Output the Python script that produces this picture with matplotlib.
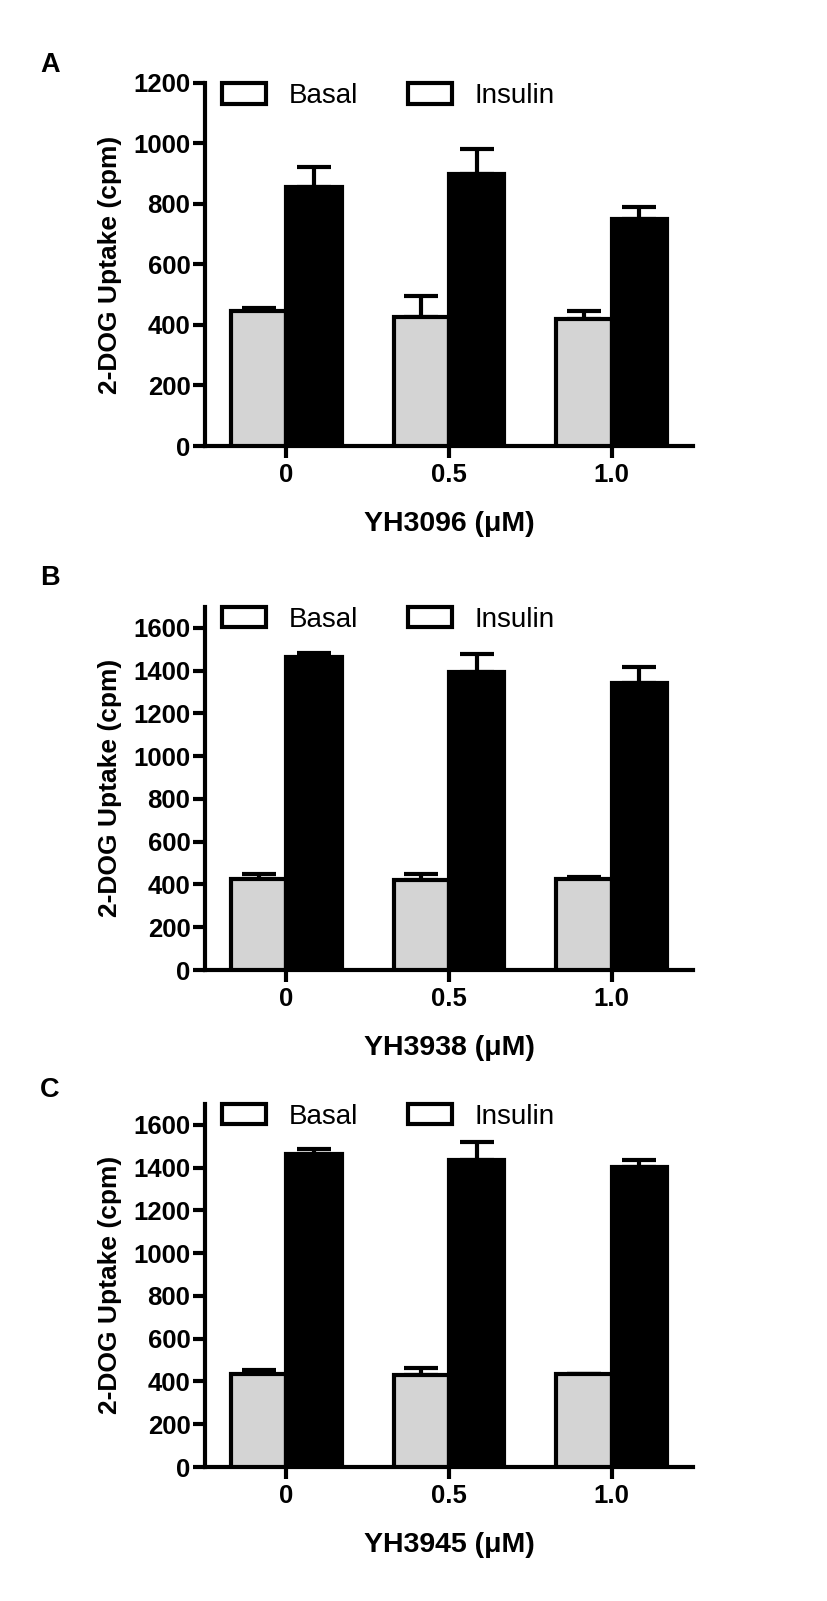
import matplotlib
matplotlib.use("Agg")
import matplotlib.pyplot as plt
from matplotlib.patches import Patch
import numpy as np

plt.rcParams['font.family'] = ['Liberation Sans', 'DejaVu Sans']

doses = ["0", "0.5", "1.0"]
series = ["Basal", "Insulin"]

compounds = ["YH3096", "YH3938", "YH3945"]
panel_letters = ["A", "B", "C"]

basal_A = [445, 428, 421]
basal_A_err = [12, 67, 24]
insulin_A = [856, 898, 749]
insulin_A_err = [67, 83, 41]

basal_B = [428, 420, 428]
basal_B_err = [19, 30, 6]
insulin_B = [1465, 1396, 1344]
insulin_B_err = [20, 81, 75]

basal_C = [433, 431, 433]
basal_C_err = [23, 32, 4]
insulin_C = [1463, 1437, 1404]
insulin_C_err = [23, 84, 33]

ylims = [1200, 1700, 1700]
yticks = [np.arange(0, 1201, 200), np.arange(0, 1601, 200), np.arange(0, 1601, 200)]

panels = [
    (basal_A, basal_A_err, insulin_A, insulin_A_err),
    (basal_B, basal_B_err, insulin_B, insulin_B_err),
    (basal_C, basal_C_err, insulin_C, insulin_C_err),
]

fig = plt.figure(figsize=(8.27, 16.01), dpi=100)
W, H = 827, 1601
# pixel layout (left, bottom_px, top_px)
layout = [(205, 446, 83), (205, 970, 606.6), (205, 1467, 1103.6)]
right_px = 693
letter_y = [65, 578, 1090]

LW = 3.0
bw = 0.34
x = np.arange(len(doses))

for i, (b, be, ins, inse) in enumerate(panels):
    l, bpx, tpx = layout[i]
    ax = fig.add_axes([l / W, 1 - bpx / H, (right_px - l) / W, (bpx - tpx) / H])
    ax.bar(x - bw / 2, b, width=bw, color='#d4d4d4', edgecolor='black', linewidth=LW, zorder=3)
    ax.bar(x + bw / 2, ins, width=bw, color='black', edgecolor='black', linewidth=LW, zorder=3)
    ax.errorbar(x - bw / 2, b, yerr=[np.zeros(len(b)), be], fmt='none', ecolor='black',
                elinewidth=LW, capsize=12, capthick=LW, zorder=2)
    ax.errorbar(x + bw / 2, ins, yerr=[np.zeros(len(ins)), inse], fmt='none', ecolor='black',
                elinewidth=LW, capsize=12, capthick=LW, zorder=2)
    ax.set_xlim(-0.5, 2.5)
    ax.set_ylim(0, ylims[i])
    ax.set_yticks(yticks[i])
    ax.set_xticks(x)
    ax.set_xticklabels(doses)
    for s in ['top', 'right']:
        ax.spines[s].set_visible(False)
    for s in ['left', 'bottom']:
        ax.spines[s].set_linewidth(LW)
    ax.tick_params(axis='both', width=LW, length=8.5, labelsize=18.5, pad=2)
    ax.tick_params(axis='x', pad=4)
    for t in ax.get_xticklabels() + ax.get_yticklabels():
        t.set_fontweight('bold')
    ax.set_ylabel("2-DOG Uptake (cpm)", fontsize=19, fontweight='bold', labelpad=8)
    ax.set_xlabel(compounds[i] + " (\u03bcM)", fontsize=20.5, fontweight='bold', labelpad=17)
    handles = [Patch(facecolor='white', edgecolor='black', linewidth=LW, label=s) for s in series]
    ax.legend(handles=handles, ncol=2, frameon=False, loc='upper left',
              bbox_to_anchor=(0.0, 1.045), fontsize=20, handlelength=1.6, handleheight=0.75,
              handletextpad=0.8, columnspacing=1.8, borderaxespad=0.2)
    fig.text(40 / W, 1 - letter_y[i] / H, panel_letters[i], fontsize=19.5, fontweight='bold',
             ha='left', va='center')

fig.savefig("out.png", dpi=100)
